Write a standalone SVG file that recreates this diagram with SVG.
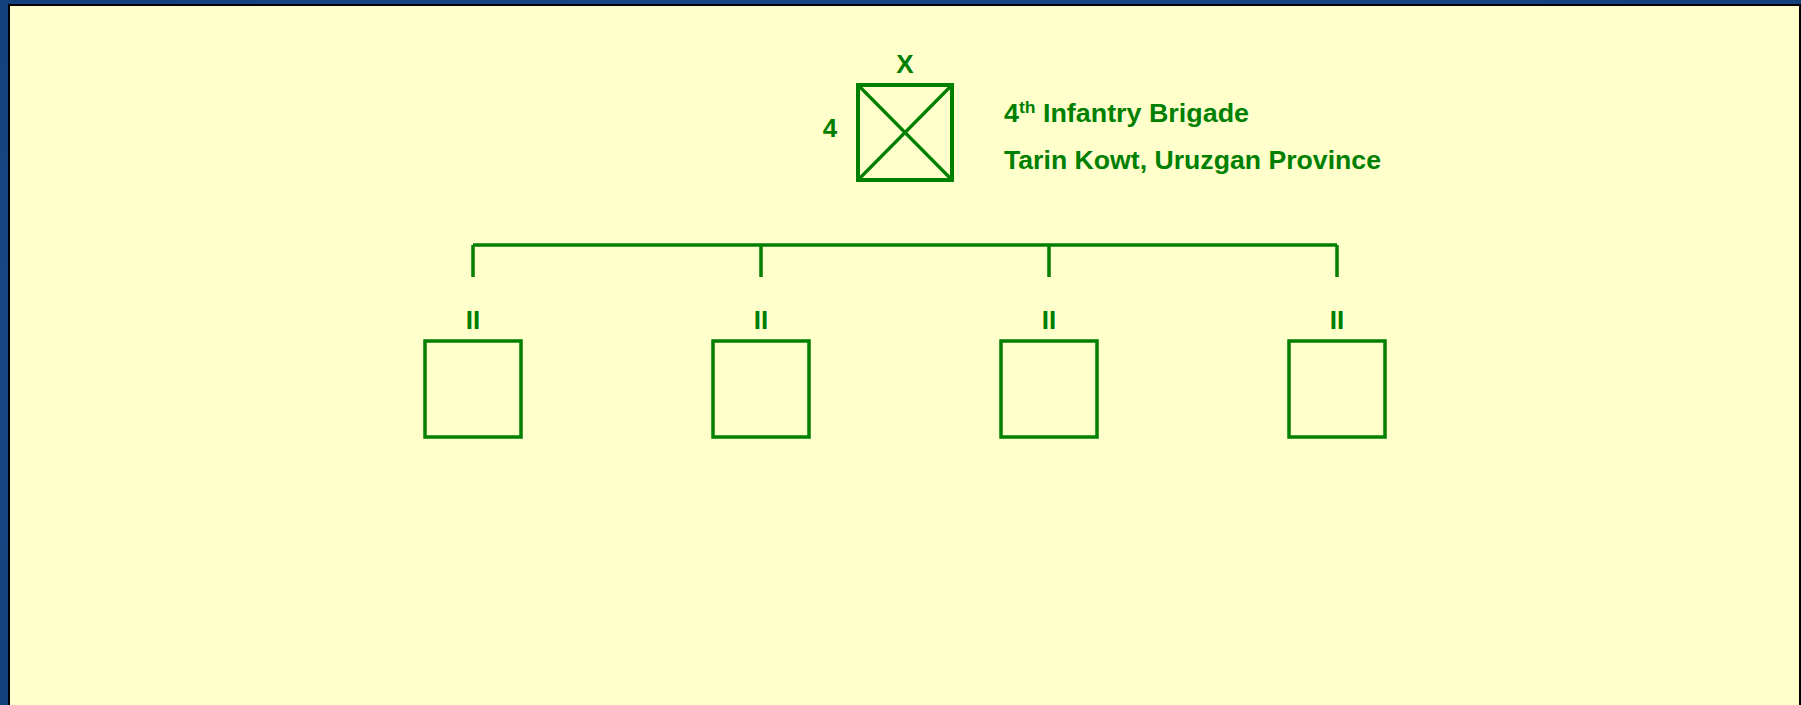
<svg xmlns="http://www.w3.org/2000/svg" width="1801" height="705" viewBox="0 0 1801 705">
<style>
.t{font-family:"Liberation Sans",Arial,sans-serif;font-weight:bold;fill:#008000;}
.ln{stroke:#008000;stroke-width:3.5;fill:none;}
.box{stroke:#008000;stroke-width:3.5;fill:none;}
</style>
<defs>
<radialGradient id="bg" cx="50%" cy="50%" r="75%">
<stop offset="0" stop-color="#1d5497"/>
<stop offset="1" stop-color="#123f7a"/>
</radialGradient>
</defs>
<rect x="0" y="0" width="1801" height="705" fill="url(#bg)"/>
<rect x="9" y="5" width="1791" height="720" fill="#FFFFCC" stroke="#000" stroke-width="2"/>
<g id="brigade">
<rect x="858" y="85" width="94" height="95" fill="none" stroke="#008000" stroke-width="4"/>
<line x1="858" y1="85" x2="952" y2="180" stroke="#008000" stroke-width="3.2"/>
<line x1="952" y1="85" x2="858" y2="180" stroke="#008000" stroke-width="3.2"/>
<text class="t" x="905" y="73" font-size="26" text-anchor="middle">X</text>
<text class="t" x="830" y="137" font-size="26" text-anchor="middle">4</text>
<text class="t" x="1004" y="122" font-size="26" textLength="245" lengthAdjust="spacingAndGlyphs">4<tspan font-size="17" dy="-9">th</tspan><tspan dy="9"> Infantry Brigade</tspan></text>
<text class="t" x="1004" y="169" font-size="26" textLength="377" lengthAdjust="spacingAndGlyphs">Tarin Kowt, Uruzgan Province</text>
</g>
<g id="connectors">
<line class="ln" x1="473" y1="245" x2="1337" y2="245"/>
<line class="ln" x1="473" y1="245" x2="473" y2="277"/>
<line class="ln" x1="761" y1="245" x2="761" y2="277"/>
<line class="ln" x1="1049" y1="245" x2="1049" y2="277"/>
<line class="ln" x1="1337" y1="245" x2="1337" y2="277"/>
</g>
<g id="bn1">
<text class="t" x="473" y="329" font-size="26" text-anchor="middle">II</text>
<rect class="box" x="425" y="341" width="96" height="96"/>
</g>
<g id="bn2">
<text class="t" x="761" y="329" font-size="26" text-anchor="middle">II</text>
<rect class="box" x="713" y="341" width="96" height="96"/>
</g>
<g id="bn3">
<text class="t" x="1049" y="329" font-size="26" text-anchor="middle">II</text>
<rect class="box" x="1001" y="341" width="96" height="96"/>
</g>
<g id="bn4">
<text class="t" x="1337" y="329" font-size="26" text-anchor="middle">II</text>
<rect class="box" x="1289" y="341" width="96" height="96"/>
</g>
</svg>
